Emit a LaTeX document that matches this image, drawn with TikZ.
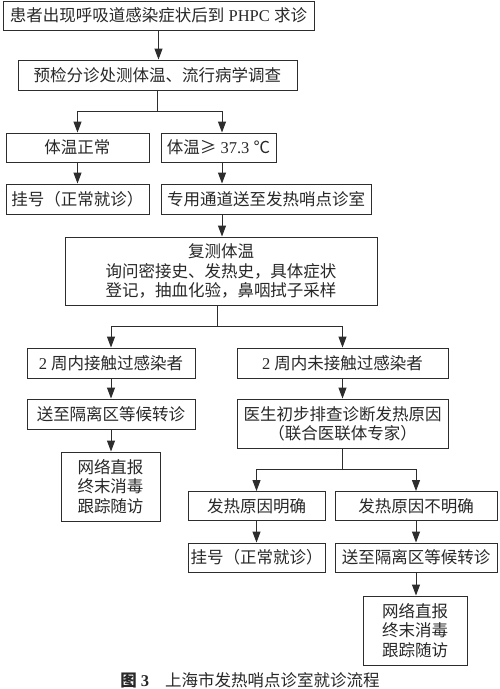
\documentclass[tikz,border=0pt]{standalone}
\usepackage{fontspec}
\setmainfont{Liberation Serif}
\newfontfamily\cjk{Noto Sans CJK SC}
\usetikzlibrary{arrows.meta}
\definecolor{linec}{RGB}{45,45,45}
\definecolor{textc}{RGB}{40,40,40}
\newcommand\lat[1]{{\rmfamily #1}}
\begin{document}
\begin{tikzpicture}[x=1pt,y=-1pt,
  box/.style={draw=linec, line width=0.95pt, inner sep=0pt, align=center, text=textc,
    font=\fontsize{16.5}{19.3}\selectfont\cjk},
  arr/.style={draw=linec, line width=0.95pt, -{Triangle[length=11pt,width=8pt]}},
  ln/.style={draw=linec, line width=0.95pt}]
\useasboundingbox (0,0) rectangle (500,689);
\fill[white] (0,0) rectangle (500,689);

\node[box, minimum width=311pt, minimum height=29pt] (b1) at (158.5,15.5)
  {患者出现呼吸道感染症状后到\lat{~PHPC~}求诊};
\node[box, minimum width=279pt, minimum height=30pt] (b2) at (157.5,75)
  {预检分诊处测体温、流行病学调查};
\node[box, minimum width=143pt, minimum height=29pt] (b3a) at (77.5,147.5)
  {体温正常};
\node[box, minimum width=115pt, minimum height=29pt] (b3b) at (218.5,147.5)
  {体温≥\lat{~37.3~}℃};
\node[box, minimum width=143pt, minimum height=30pt] (b4a) at (77.5,199)
  {挂号（正常就诊）};
\node[box, minimum width=210pt, minimum height=30pt] (b4b) at (266,199)
  {专用通道送至发热哨点诊室};
\node[box, minimum width=312pt, minimum height=68pt] (b5) at (221,271)
  {复测体温\\询问密接史、发热史，具体症状\\登记，抽血化验，鼻咽拭子采样};
\node[box, minimum width=168pt, minimum height=30pt] (b6a) at (111,363)
  {\lat{2~}周内接触过感染者};
\node[box, minimum width=211pt, minimum height=30pt] (b6b) at (342.5,363)
  {\lat{2~}周内未接触过感染者};
\node[box, minimum width=168pt, minimum height=30pt] (b7a) at (111,414)
  {送至隔离区等候转诊};
\node[box, minimum width=211pt, minimum height=49pt] (b7b) at (342.5,423.5)
  {医生初步排查诊断发热原因\\（联合医联体专家）};
\node[box, minimum width=99pt, minimum height=69pt] (b8a) at (110.5,486.5)
  {网络直报\\终末消毒\\跟踪随访};
\node[box, minimum width=137pt, minimum height=29pt] (b9a) at (256.5,506)
  {发热原因明确};
\node[box, minimum width=162pt, minimum height=29pt] (b9b) at (416,506)
  {发热原因不明确};
\node[box, minimum width=137pt, minimum height=29pt] (b10a) at (256.5,557.5)
  {挂号（正常就诊）};
\node[box, minimum width=162pt, minimum height=29pt] (b10b) at (416,557.5)
  {送至隔离区等候转诊};
\node[box, minimum width=104pt, minimum height=69pt] (b11b) at (415,630.5)
  {网络直报\\终末消毒\\跟踪随访};
\node[text=textc, font=\fontsize{16.5}{19.3}\selectfont\cjk, inner sep=0pt] (cap) at (250,680)
  {\textbf{图\lat{~3}}\hspace{16pt}上海市发热哨点诊室就诊流程};

\coordinate (colR) at (222,0);
\coordinate (s1) at (157.5,111);
\coordinate (s2) at (217,326);
\coordinate (s3) at (342.5,469);

\draw[arr] (b1.south) -- (b1.south |- b2.north);
\draw[ln] (b2.south) -- (s1);
\draw[arr] (s1) -| (b3a.north);
\draw[arr] (s1) -| (b3b.north -| colR);
\draw[arr] (b3a.south) -- (b4a.north);
\draw[arr] (b3b.south -| colR) -- (b4b.north -| colR);
\draw[arr] (b4b.south -| colR) -- (b5.north -| colR);
\draw[ln] (b5.south -| s2) -- (s2);
\draw[arr] (s2) -| (b6a.north);
\draw[arr] (s2) -| (b6b.north);
\draw[arr] (b6a.south) -- (b7a.north);
\draw[arr] (b7a.south) -- (b7a.south |- b8a.north);
\draw[arr] (b6b.south) -- (b7b.north);
\draw[ln] (b7b.south) -- (s3);
\draw[arr] (s3) -| (b9a.north);
\draw[arr] (s3) -| (b9b.north);
\draw[arr] (b9a.south) -- (b10a.north);
\draw[arr] (b9b.south) -- (b10b.north);
\draw[arr] (b10b.south) -- (b10b.south |- b11b.north);
\end{tikzpicture}
\end{document}
